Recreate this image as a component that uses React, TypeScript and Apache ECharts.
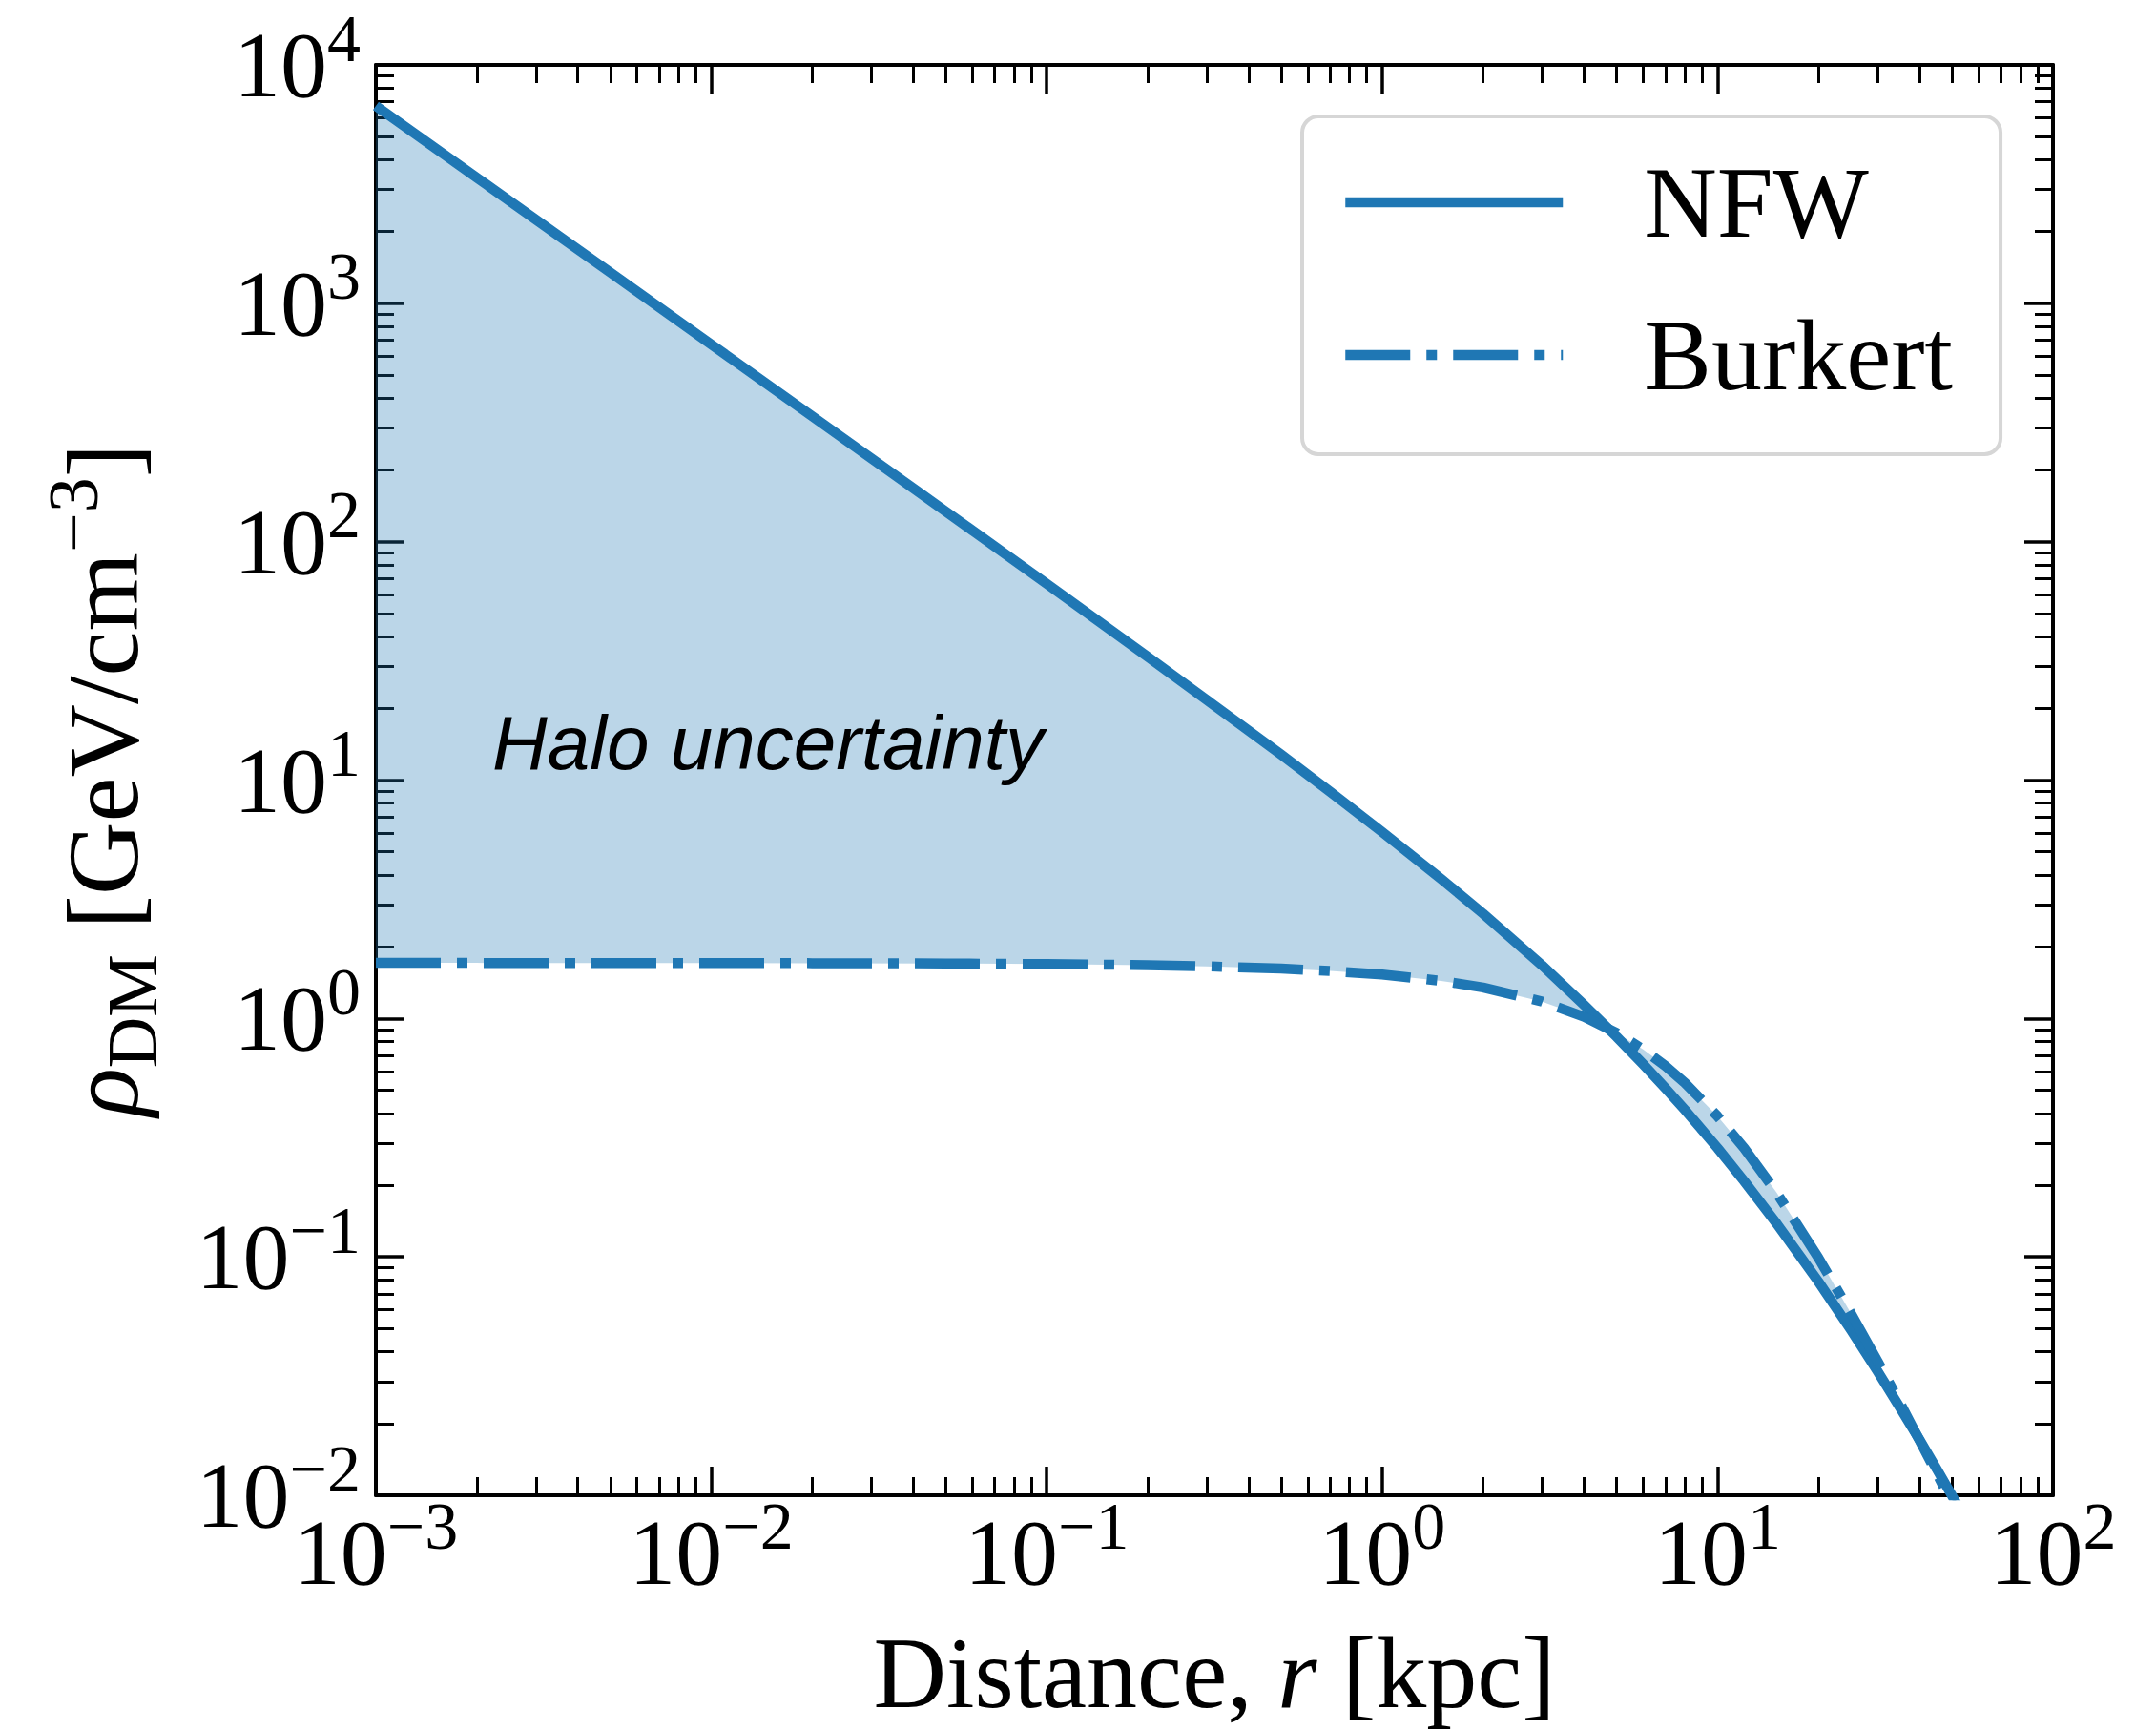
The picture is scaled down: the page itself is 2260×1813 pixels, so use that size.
import React, { useEffect, useRef } from "react";
import * as echarts from "echarts";

// Galactocentric distance samples [kpc]
const RADIUS_KPC = [
  0.001, 0.002, 0.005, 0.01, 0.02, 0.05, 0.1, 0.2, 0.3, 0.5, 0.7, 1, 1.5, 2, 3, 4,
  5, 6, 7, 8, 10, 12, 15, 20, 25, 30, 35, 40, 45, 50, 60,
];
// Dark-matter density [GeV/cm^3]
const NFW_DENSITY = [
  6730, 3365, 1346, 672, 336, 134, 66.6, 32.9, 21.7, 12.8, 8.93, 6.06, 3.85, 2.75,
  1.67, 1.14, 0.838, 0.643, 0.509, 0.413, 0.286, 0.208, 0.138, 0.0786, 0.0493,
  0.0331, 0.0233, 0.0171, 0.0129, 0.00997, 0.00633,
];
const BURKERT_DENSITY = [
  1.71, 1.71, 1.709, 1.708, 1.706, 1.701, 1.692, 1.674, 1.655, 1.619, 1.583, 1.528,
  1.438, 1.349, 1.177, 1.016, 0.87, 0.742, 0.631, 0.536, 0.389, 0.286, 0.186,
  0.0989, 0.0579, 0.0365, 0.0244, 0.017, 0.0124, 0.00924, 0.00555,
];

const X_MAJOR_TICKS = [1e-3, 1e-2, 1e-1, 1, 10, 100];
const Y_MAJOR_TICKS = [1e-2, 1e-1, 1, 10, 100, 1000, 10000];
const MINOR_MULTIPLIERS = [2, 3, 4, 5, 6, 7, 8, 9];
const X_DECADES = [-3, -2, -1, 0, 1];
const Y_DECADES = [-2, -1, 0, 1, 2, 3];

const minorTicks = (decades: number[]) =>
  decades.flatMap((d) => MINOR_MULTIPLIERS.map((k) => Number((k * Math.pow(10, d)).toPrecision(6))));
const X_MINOR_TICKS = minorTicks(X_DECADES);
const Y_MINOR_TICKS = minorTicks(Y_DECADES);

const SERIES_NAMES = ["NFW", "Burkert"];
const ANNOTATION = "Halo uncertainty";

const SERIF = "'Liberation Serif', 'DejaVu Serif', serif";
const SANS = "'Liberation Sans', Arial, sans-serif";
const BLUE = "#1f77b4";
const LINE_W = 10.5;

function powerLabel(v: number): string {
  const e = Math.round(Math.log10(v));
  return "10{sup|" + (e < 0 ? "\u2212" + String(-e) : String(e)) + "}";
}

const supStyle = {
  fontSize: 70,
  fontFamily: SERIF,
  color: "#000",
  height: 44,
  lineHeight: 44,
  verticalAlign: "top",
};

const tickLabel = {
  show: true,
  fontFamily: SERIF,
  fontSize: 98,
  lineHeight: 100,
  color: "#000",
  formatter: powerLabel,
  rich: { sup: supStyle },
};

const spine = { show: true, onZero: false, lineStyle: { color: "#000", width: 4 } };

function makeAxis(
  kind: "x" | "y",
  position: string,
  ticks: number[],
  len: number,
  width: number,
  withLine: boolean,
  extra: Record<string, unknown> = {}
) {
  return {
    type: "log",
    logBase: 10,
    min: kind === "x" ? 0.001 : 0.01,
    max: kind === "x" ? 100 : 10000,
    position,
    gridIndex: 0,
    axisLine: withLine ? spine : { show: false },
    axisTick: {
      show: true,
      inside: true,
      length: len,
      customValues: ticks,
      lineStyle: { color: "#000", width },
    },
    axisLabel: { show: false },
    splitLine: { show: false },
    minorTick: { show: false },
    minorSplitLine: { show: false },
    axisPointer: { show: false },
    ...extra,
  };
}

export default function App() {
  const ref = useRef<HTMLDivElement>(null);

  useEffect(() => {
    if (!ref.current) return;
    const chart = echarts.init(ref.current, undefined, { renderer: "svg" });

    const nfwData = RADIUS_KPC.map((r, i) => [r, NFW_DENSITY[i]]);
    const burkertData = RADIUS_KPC.map((r, i) => [r, BURKERT_DENSITY[i]]);

    const option = {
      animation: false,
      backgroundColor: "#fff",
      grid: { left: 394, top: 68, width: 1758, height: 1499 },
      xAxis: [
        makeAxis("x", "bottom", X_MAJOR_TICKS, 30, 3.5, true, {
          axisLabel: { ...tickLabel, margin: 10, customValues: X_MAJOR_TICKS },
          name: "Distance, {i|r} [kpc]",
          nameLocation: "middle",
          nameGap: 133,
          nameTextStyle: {
            fontFamily: SERIF,
            fontSize: 106,
            lineHeight: 106,
            color: "#000",
            rich: { i: { fontFamily: SERIF, fontSize: 106, fontStyle: "italic", color: "#000" } },
          },
        }),
        makeAxis("x", "bottom", X_MINOR_TICKS, 19, 3, false),
        makeAxis("x", "top", X_MAJOR_TICKS, 30, 3.5, true),
        makeAxis("x", "top", X_MINOR_TICKS, 19, 3, false),
      ],
      yAxis: [
        makeAxis("y", "left", Y_MAJOR_TICKS, 30, 3.5, true, {
          axisLabel: { ...tickLabel, margin: 16, customValues: Y_MAJOR_TICKS },
          name: "{rho|\u03C1}{sub|DM} [GeV/cm{sup|\u22123}]",
          nameLocation: "middle",
          nameRotate: 90,
          nameGap: 233,
          nameTextStyle: {
            fontFamily: SERIF,
            fontSize: 106,
            lineHeight: 106,
            color: "#000",
            rich: {
              rho: { fontFamily: SERIF, fontSize: 106, fontStyle: "italic", color: "#000" },
              sub: {
                fontFamily: SERIF,
                fontSize: 74,
                color: "#000",
                height: 44,
                lineHeight: 44,
                verticalAlign: "bottom",
              },
              sup: { ...supStyle, fontSize: 74 },
            },
          },
        }),
        makeAxis("y", "left", Y_MINOR_TICKS, 19, 3, false),
        makeAxis("y", "right", Y_MAJOR_TICKS, 30, 3.5, true),
        makeAxis("y", "right", Y_MINOR_TICKS, 19, 3, false),
      ],
      legend: {
        show: true,
        orient: "vertical",
        left: 1365,
        top: 122,
        data: SERIES_NAMES,
        selectedMode: false,
        itemWidth: 228,
        itemHeight: 40,
        itemGap: 40,
        padding: [30, 50, 44, 40],
        backgroundColor: "#fff",
        borderColor: "#d6d6d6",
        borderWidth: 4,
        borderRadius: 17,
        lineStyle: { width: LINE_W },
        // hide the marker symbol so only the line sample remains
        itemStyle: { color: "rgba(0,0,0,0)", borderWidth: 0, opacity: 0 },
        formatter: (name: string) => "{gap|}" + name,
        textStyle: {
          fontFamily: SERIF,
          fontSize: 106,
          lineHeight: 120,
          color: "#000",
          rich: { gap: { width: 80 } },
        },
      },
      graphic: [
        {
          type: "text",
          x: 516,
          y: 778,
          z: 50,
          style: {
            text: ANNOTATION,
            fontFamily: SANS,
            fontSize: 80,
            fontStyle: "italic",
            fill: "#000",
            verticalAlign: "middle",
          },
        },
      ],
      series: [
        {
          name: "band",
          type: "custom",
          xAxisIndex: 0,
          yAxisIndex: 0,
          clip: true,
          z: 1,
          silent: true,
          data: [[RADIUS_KPC[0], BURKERT_DENSITY[0]]],
          renderItem: (params: any, api: any) => {
            if (params.dataIndex !== 0) return null;
            const upper = RADIUS_KPC.map((r, i) => api.coord([r, NFW_DENSITY[i]]));
            const lower = RADIUS_KPC.map((r, i) => api.coord([r, BURKERT_DENSITY[i]])).reverse();
            return {
              type: "polygon",
              shape: { points: upper.concat(lower) },
              style: { fill: "rgba(31,119,180,0.3)", stroke: null },
            };
          },
        },
        {
          name: "NFW",
          type: "line",
          xAxisIndex: 0,
          yAxisIndex: 0,
          data: nfwData,
          symbol: "none",
          clip: true,
          z: 3,
          lineStyle: { color: BLUE, width: LINE_W, type: "solid", join: "round" },
          itemStyle: { color: BLUE },
        },
        {
          name: "Burkert",
          type: "line",
          xAxisIndex: 0,
          yAxisIndex: 0,
          data: burkertData,
          symbol: "none",
          clip: true,
          z: 4,
          lineStyle: { color: BLUE, width: LINE_W, type: [68, 17, 11, 17], cap: "butt" },
          itemStyle: { color: BLUE },
        },
      ],
    };

    chart.setOption(option as any);
    return () => chart.dispose();
  }, []);

  return (
    <div
      ref={ref}
      style={{ position: "fixed", left: 0, top: 0, width: 2260, height: 1813, background: "#fff" }}
    />
  );
}
